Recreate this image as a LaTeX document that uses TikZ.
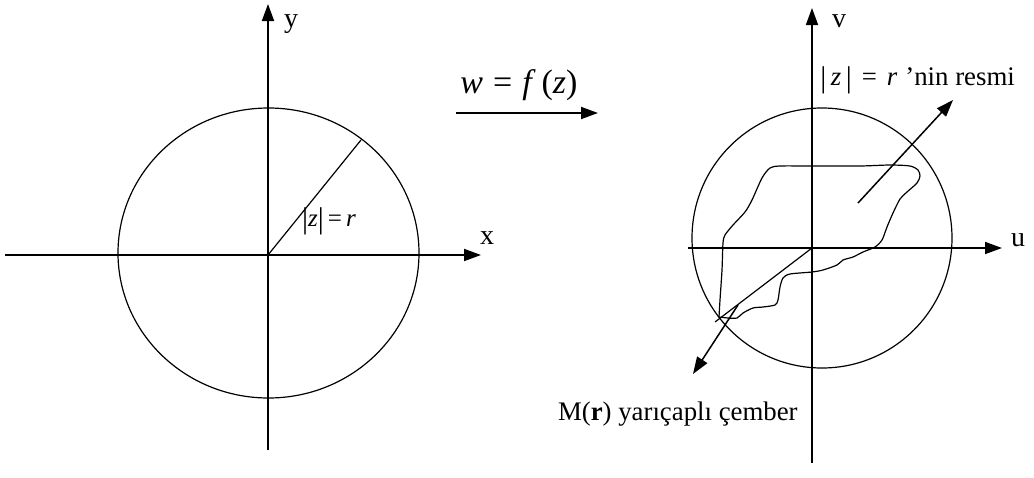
\documentclass[tikz,border=0pt]{standalone}
\usepackage{fontspec}
\setmainfont{Liberation Serif}
\usetikzlibrary{arrows.meta}
\newcommand{\vbar}{{\fontsize{15}{15}\selectfont\raisebox{-0.05em}{|}}}
\begin{document}
\begin{tikzpicture}[x=0.5pt,y=-0.5pt,
  axis/.style={line width=0.9pt,-{Triangle[length=8.5pt,width=6pt]}},
  curve/.style={line width=0.6pt},
  pointer/.style={line width=0.75pt,-{Triangle[length=8.5pt,width=6pt]}},
  lbl/.style={inner sep=0pt,font=\fontsize{12.5}{14}\selectfont},
  captext/.style={inner sep=0pt,font=\fontsize{13.4}{15}\selectfont}]
\useasboundingbox (0,0) rectangle (1034,477);
% ---------- left plane ----------
\coordinate (O1) at (268,255);
\coordinate (xs) at (5,255);   \coordinate (xe) at (481,255);
\coordinate (ys) at (268,450); \coordinate (ye) at (268,4);
\coordinate (R1) at (361,140);
\draw[curve] (268.5,253) ellipse [x radius=150.5, y radius=145];
\draw[axis] (xs) -- (xe);
\draw[axis] (ys) -- (ye);
\draw[curve] (O1) -- (R1);
\node[lbl,font=\fontsize{14}{16}\selectfont] (xl) at (487,238) {x};
\node[lbl,font=\fontsize{14}{16}\selectfont] (yl) at (291,24) {y};
\node[lbl] (zr) at (329,221) {\vbar\textit{z}\vbar\,=\,\textit{r}};
% ---------- mapping arrow ----------
\coordinate (ms) at (456,113); \coordinate (me) at (598,113);
\draw[axis] (ms) -- (me);
\node[lbl,font=\fontsize{17}{19}\selectfont] (wf) at (519,85)
  {\textit{w}\hspace{5pt}=\hspace{5pt}\textit{f}\hspace{3pt}(\textit{z})};
% ---------- right plane ----------
\coordinate (O2) at (812,248);
\coordinate (us) at (688,248); \coordinate (ue) at (1002,248);
\coordinate (vs) at (812,463); \coordinate (ve) at (812,8);
\draw[curve] (822,238) circle [radius=130];
\draw[axis] (us) -- (ue);
\draw[axis] (vs) -- (ve);
\node[lbl,font=\fontsize{14}{16}\selectfont] (ul) at (1018,240) {u};
\node[lbl,font=\fontsize{14}{16}\selectfont] (vl) at (839,21) {v};
% image of |z|=r
\draw[curve] plot[smooth, tension=0.45] coordinates {
 (719,317) (720,300) (722,270) (723,243) (725,235) (733,225) (745,212) (752,200)
 (762,178) (770,168) (780,166)
 (812,166) (860,166) (890,165) (910,166) (918,170) (920,176) (917,183) (907,192) (900,199)
 (893,213) (887,227) (882,240) (875,247) (863,252) (853,257) (843,260) (837,265)
 (823,270) (812,272) (790,274) (783,278) (780,287) (778,300) (775,305) (763,307)
 (753,308) (743,313) (737,318) (728,318) (719,317)};
\coordinate (M1) at (715,322);
\draw[curve] (O2) -- (M1);
% pointers
\coordinate (p1s) at (858,203); \coordinate (p1e) at (953,100);
\draw[pointer] (p1s) -- (p1e);
\coordinate (p2s) at (738,305); \coordinate (p2e) at (693,374);
\draw[pointer] (p2s) -- (p2e);
\node[captext,anchor=west] (res) at (820,80)
  {\vbar\,\textit{z}\,\vbar\hspace{5pt}=\hspace{5pt}\textit{r}\hspace{4pt}’nin resmi};
\node[captext,anchor=east] (mr) at (798,414) {M(\textbf{r}) yarıçaplı çember};
\end{tikzpicture}
\end{document}
